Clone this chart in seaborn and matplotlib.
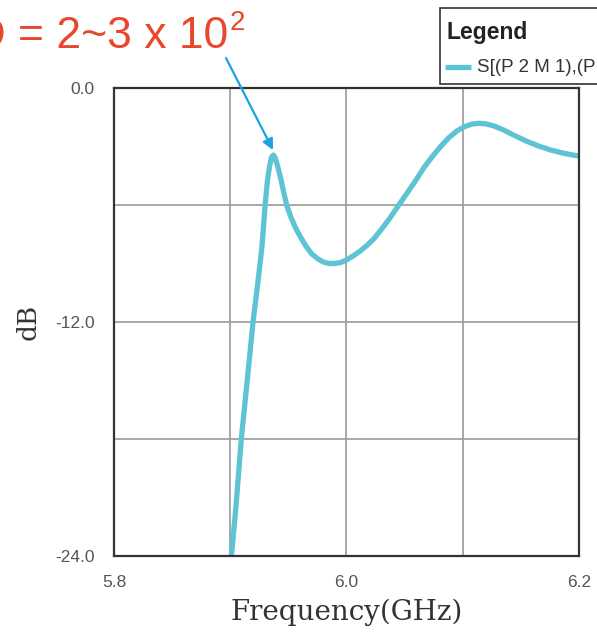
import matplotlib
matplotlib.use("Agg")
import matplotlib.pyplot as plt
import seaborn as sns
import pandas as pd
from matplotlib.patches import Rectangle
from matplotlib.lines import Line2D

# ---- data ----
freq_ghz = [5.901, 5.905, 5.9095, 5.9146, 5.9196, 5.9235, 5.927, 5.9285, 5.930,
            5.932, 5.934, 5.9355, 5.937, 5.9385, 5.940, 5.942, 5.944, 5.946,
            5.9485, 5.952, 5.956, 5.960, 5.965, 5.970, 5.975, 5.980, 5.985,
            5.990, 5.995, 6.000, 6.006, 6.012, 6.018, 6.024, 6.030, 6.037,
            6.045, 6.052, 6.060, 6.067, 6.074, 6.081, 6.088, 6.095, 6.102,
            6.108, 6.114, 6.120, 6.127, 6.135, 6.145, 6.155, 6.165, 6.175,
            6.185, 6.193, 6.200]
s21_db = [-24.0, -21.4, -18.0, -15.0, -12.0, -10.1, -8.3, -7.2, -6.0,
          -4.75, -3.95, -3.55, -3.44, -3.55, -3.85, -4.3, -4.8, -5.35,
          -6.0, -6.6, -7.15, -7.6, -8.1, -8.5, -8.75, -8.92, -9.0,
          -9.0, -8.95, -8.82, -8.6, -8.35, -8.05, -7.7, -7.25, -6.7,
          -6.0, -5.4, -4.7, -4.05, -3.5, -3.0, -2.55, -2.2, -1.97,
          -1.85, -1.81, -1.84, -1.95, -2.15, -2.45, -2.73, -2.97, -3.17,
          -3.32, -3.42, -3.49]
series_label = "S[(P 2 M 1),(P 1 M 1)]"
x_ticks = [5.8, 6.0, 6.2]
x_grid = [5.9, 6.0, 6.1]
y_ticks = [0.0, -12.0, -24.0]
y_grid = [-6.0, -12.0, -18.0]
annotation_text = "Q = 2~3 x 10"
annotation_sup = "2"

df = pd.DataFrame({"Frequency": freq_ghz, "dB": s21_db})

sns.set_theme(style="white")
plt.rcParams["font.family"] = ["Liberation Sans", "DejaVu Sans"]

W, H = 597, 633
fig = plt.figure(figsize=(W / 100, H / 100), dpi=100)
ax = fig.add_axes([114 / W, 1 - 556 / H, (579 - 114) / W, (556 - 88) / H])

line_color = "#5EC4D3"
sns.lineplot(data=df, x="Frequency", y="dB", ax=ax, color=line_color,
             linewidth=3.8, label=series_label, sort=False, legend=False)
ax.lines[0].set_solid_joinstyle("round")

ax.set_xlim(5.8, 6.2)
ax.set_ylim(-24, 0)
for g in x_grid:
    ax.axvline(g, color="#9a9a9a", lw=1.2, zorder=0)
for g in y_grid:
    ax.axhline(g, color="#9a9a9a", lw=1.2, zorder=0)

ax.set_xticks(x_ticks)
ax.set_xticklabels([f"{v:.1f}" for v in x_ticks])
ax.set_yticks(y_ticks)
ax.set_yticklabels([f"{v:.1f}" for v in y_ticks])
ax.tick_params(axis="both", labelsize=12.5, labelcolor="#555555", length=0, pad=14)
ax.tick_params(axis="x", pad=14)

for s in ax.spines.values():
    s.set_color("#333333")
    s.set_linewidth(1.6)

ax.set_xlabel("Frequency(GHz)", family="DejaVu Serif", fontsize=20, color="#333333", labelpad=6)
ax.set_ylabel("dB", family="DejaVu Serif", fontsize=19, color="#333333", labelpad=10)

# annotation text + arrow
fig.text(228 / W, 1 - 48 / H, annotation_text, ha="right", va="baseline",
         fontsize=32, color="#E8472B", family="Liberation Sans")
fig.text(230 / W, 1 - 30 / H, annotation_sup, ha="left", va="baseline",
         fontsize=20, color="#E8472B", family="Liberation Sans")
ax.annotate("", xy=(273, H - 150), xycoords="figure pixels",
            xytext=(226, H - 58), textcoords="figure pixels",
            arrowprops=dict(arrowstyle="-|>", color="#1AA3E0", lw=1.6,
                            mutation_scale=16, shrinkA=0, shrinkB=0))

# legend box (partially outside the figure, as in the reference)
fig.add_artist(Rectangle((440 / W, 1 - 84 / H), 200 / W, 76 / H,
                         transform=fig.transFigure, facecolor="white",
                         edgecolor="#333333", lw=1.2, zorder=5))
fig.text(447 / W, 1 - 39 / H, "Legend", fontsize=16.5, fontweight="bold",
         color="#222222", va="baseline", zorder=6)
fig.add_artist(Line2D([445 / W, 471 / W], [1 - 67 / H, 1 - 67 / H],
                      transform=fig.transFigure, color=line_color, lw=3.8,
                      solid_capstyle="butt", zorder=6))
fig.text(477 / W, 1 - 72 / H, series_label, fontsize=13.5, color="#333333",
         va="baseline", zorder=6)

fig.savefig("out.png", dpi=100)
